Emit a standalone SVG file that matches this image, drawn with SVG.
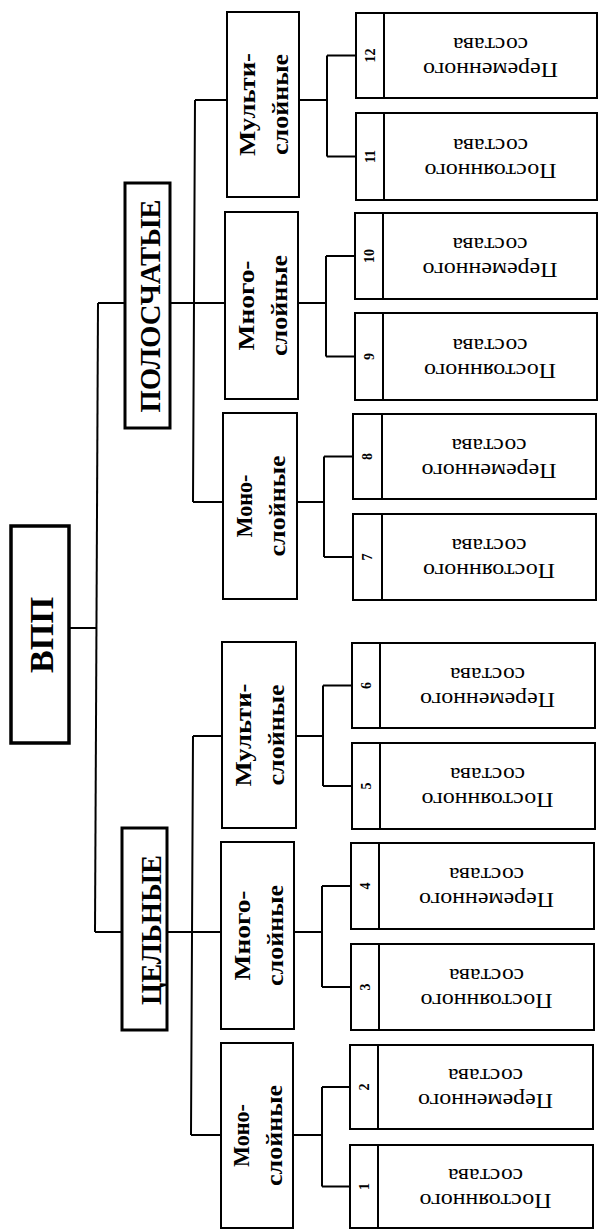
<svg xmlns="http://www.w3.org/2000/svg" width="598" height="1230" viewBox="0 0 598 1230">
<style>
.box{fill:#fff;stroke:#000;stroke-width:2}
.rootbox{fill:#fff;stroke:#000;stroke-width:3.5}
.catbox{fill:#fff;stroke:#000;stroke-width:3}
.div{stroke:#000;stroke-width:2}
.conn path{fill:none;stroke:#000;stroke-width:2}
text{font-family:"Liberation Serif","Times New Roman",serif;fill:#000;text-anchor:middle}
.root{font-size:34px;font-weight:bold}
.cat{font-size:29px;font-weight:bold}
.mid{font-size:24px;font-weight:bold}
.leaf{font-size:21px}
.num{font-size:14px;font-weight:bold}
</style>
<rect width="598" height="1230" fill="#fff"/>
<g class="conn" id="connectors">
<path d="M69 628H97"/>
<path d="M98 303L95 932"/>
<path d="M98 303H125M170 303H225"/>
<path d="M195 100L193 502M195 100H227M193 502H223"/>
<path d="M95 932H122M167 932H221"/>
<path d="M193 736L191 1135M193 736H222M191 1135H221"/>
<path d="M299 100H327M327 55.5V156.5M327 55.5H356M327 156.5H356"/>
<path d="M298 303H326M326 256V356.5M326 256H355M326 356.5H355"/>
<path d="M297 502H324M324 456.5V557M324 456.5H353M324 557H353"/>
<path d="M296 736H323M323 685.5V786M323 685.5H352M323 786H352"/>
<path d="M294 932H322M322 886V987M322 886H351M322 987H351"/>
<path d="M293 1135H322M322 1087V1186.5M322 1087H350M322 1186.5H350"/>
</g>
<g id="root">
<rect class="rootbox" x="11" y="526" width="58" height="217"/>
<text class="root" transform="translate(41.5,635) rotate(-90)" y="11.3" textLength="76" lengthAdjust="spacingAndGlyphs">ВПП</text>
</g>
<g id="polos">
<rect class="catbox" x="125" y="183" width="45" height="245"/>
<text class="cat" transform="translate(150.5,306) rotate(-90)" y="9.6" textLength="213" lengthAdjust="spacingAndGlyphs">ПОЛОСЧАТЫЕ</text>
</g>
<g id="celn">
<rect class="catbox" x="122" y="828" width="45" height="202"/>
<text class="cat" transform="translate(151,930) rotate(-90)" y="9.6" textLength="150" lengthAdjust="spacingAndGlyphs">ЦЕЛЬНЫЕ</text>
</g>
<g id="p-multi">
<rect class="box" x="227" y="12" width="72" height="185"/>
<g transform="translate(263,104.5) rotate(-90)"><text class="mid" y="-8" textLength="103" lengthAdjust="spacingAndGlyphs">Мульти-</text><text class="mid" y="25" textLength="101" lengthAdjust="spacingAndGlyphs">слойные</text></g>
</g>
<g id="p-mnogo">
<rect class="box" x="225" y="212" width="73" height="187"/>
<g transform="translate(261.5,305.5) rotate(-90)"><text class="mid" y="-8" textLength="90" lengthAdjust="spacingAndGlyphs">Много-</text><text class="mid" y="25" textLength="101" lengthAdjust="spacingAndGlyphs">слойные</text></g>
</g>
<g id="p-mono">
<rect class="box" x="223" y="413" width="74" height="186"/>
<g transform="translate(260,506) rotate(-90)"><text class="mid" y="-8" textLength="63" lengthAdjust="spacingAndGlyphs">Моно-</text><text class="mid" y="25" textLength="101" lengthAdjust="spacingAndGlyphs">слойные</text></g>
</g>
<g id="c-multi">
<rect class="box" x="222" y="642" width="74" height="186"/>
<g transform="translate(259,735) rotate(-90)"><text class="mid" y="-8" textLength="103" lengthAdjust="spacingAndGlyphs">Мульти-</text><text class="mid" y="25" textLength="101" lengthAdjust="spacingAndGlyphs">слойные</text></g>
</g>
<g id="c-mnogo">
<rect class="box" x="221" y="842" width="73" height="187"/>
<g transform="translate(257.5,935.5) rotate(-90)"><text class="mid" y="-8" textLength="90" lengthAdjust="spacingAndGlyphs">Много-</text><text class="mid" y="25" textLength="101" lengthAdjust="spacingAndGlyphs">слойные</text></g>
</g>
<g id="c-mono">
<rect class="box" x="221" y="1043" width="72" height="185"/>
<g transform="translate(257,1135.5) rotate(-90)"><text class="mid" y="-8" textLength="63" lengthAdjust="spacingAndGlyphs">Моно-</text><text class="mid" y="25" textLength="101" lengthAdjust="spacingAndGlyphs">слойные</text></g>
</g>
<g id="leaf12">
<rect class="box" x="356" y="13" width="241" height="85"/><line class="div" x1="384" y1="13" x2="384" y2="98"/>
<text class="num" transform="translate(370,55.5) rotate(-90)" y="4.8">12</text>
<g transform="translate(490.5,55.5) rotate(180)"><text class="leaf" y="-7" textLength="135" lengthAdjust="spacingAndGlyphs">Переменного</text><text class="leaf" y="18" textLength="75" lengthAdjust="spacingAndGlyphs">состава</text></g>
</g>
<g id="leaf11">
<rect class="box" x="356" y="113" width="241" height="87"/><line class="div" x1="384" y1="113" x2="384" y2="200"/>
<text class="num" transform="translate(370,156.5) rotate(-90)" y="4.8">11</text>
<g transform="translate(490.5,156.5) rotate(180)"><text class="leaf" y="-7" textLength="132" lengthAdjust="spacingAndGlyphs">Постоянного</text><text class="leaf" y="18" textLength="75" lengthAdjust="spacingAndGlyphs">состава</text></g>
</g>
<g id="leaf10">
<rect class="box" x="355" y="213" width="242" height="86"/><line class="div" x1="383" y1="213" x2="383" y2="299"/>
<text class="num" transform="translate(369,256) rotate(-90)" y="4.8">10</text>
<g transform="translate(490,256) rotate(180)"><text class="leaf" y="-7" textLength="135" lengthAdjust="spacingAndGlyphs">Переменного</text><text class="leaf" y="18" textLength="75" lengthAdjust="spacingAndGlyphs">состава</text></g>
</g>
<g id="leaf9">
<rect class="box" x="355" y="313" width="242" height="87"/><line class="div" x1="383" y1="313" x2="383" y2="400"/>
<text class="num" transform="translate(369,356.5) rotate(-90)" y="4.8">9</text>
<g transform="translate(490,356.5) rotate(180)"><text class="leaf" y="-7" textLength="132" lengthAdjust="spacingAndGlyphs">Постоянного</text><text class="leaf" y="18" textLength="75" lengthAdjust="spacingAndGlyphs">состава</text></g>
</g>
<g id="leaf8">
<rect class="box" x="353" y="414" width="243" height="85"/><line class="div" x1="382" y1="414" x2="382" y2="499"/>
<text class="num" transform="translate(367.5,456.5) rotate(-90)" y="4.8">8</text>
<g transform="translate(489,456.5) rotate(180)"><text class="leaf" y="-7" textLength="135" lengthAdjust="spacingAndGlyphs">Переменного</text><text class="leaf" y="18" textLength="75" lengthAdjust="spacingAndGlyphs">состава</text></g>
</g>
<g id="leaf7">
<rect class="box" x="353" y="514" width="243" height="86"/><line class="div" x1="382" y1="514" x2="382" y2="600"/>
<text class="num" transform="translate(367.5,557) rotate(-90)" y="4.8">7</text>
<g transform="translate(489,557) rotate(180)"><text class="leaf" y="-7" textLength="132" lengthAdjust="spacingAndGlyphs">Постоянного</text><text class="leaf" y="18" textLength="75" lengthAdjust="spacingAndGlyphs">состава</text></g>
</g>
<g id="leaf6">
<rect class="box" x="352" y="643" width="243" height="85"/><line class="div" x1="380" y1="643" x2="380" y2="728"/>
<text class="num" transform="translate(366,685.5) rotate(-90)" y="4.8">6</text>
<g transform="translate(487.5,685.5) rotate(180)"><text class="leaf" y="-7" textLength="135" lengthAdjust="spacingAndGlyphs">Переменного</text><text class="leaf" y="18" textLength="75" lengthAdjust="spacingAndGlyphs">состава</text></g>
</g>
<g id="leaf5">
<rect class="box" x="352" y="743" width="243" height="86"/><line class="div" x1="380" y1="743" x2="380" y2="829"/>
<text class="num" transform="translate(366,786) rotate(-90)" y="4.8">5</text>
<g transform="translate(487.5,786) rotate(180)"><text class="leaf" y="-7" textLength="132" lengthAdjust="spacingAndGlyphs">Постоянного</text><text class="leaf" y="18" textLength="75" lengthAdjust="spacingAndGlyphs">состава</text></g>
</g>
<g id="leaf4">
<rect class="box" x="351" y="843" width="243" height="86"/><line class="div" x1="379" y1="843" x2="379" y2="929"/>
<text class="num" transform="translate(365,886) rotate(-90)" y="4.8">4</text>
<g transform="translate(486.5,886) rotate(180)"><text class="leaf" y="-7" textLength="135" lengthAdjust="spacingAndGlyphs">Переменного</text><text class="leaf" y="18" textLength="75" lengthAdjust="spacingAndGlyphs">состава</text></g>
</g>
<g id="leaf3">
<rect class="box" x="351" y="944" width="243" height="86"/><line class="div" x1="379" y1="944" x2="379" y2="1030"/>
<text class="num" transform="translate(365,987) rotate(-90)" y="4.8">3</text>
<g transform="translate(486.5,987) rotate(180)"><text class="leaf" y="-7" textLength="132" lengthAdjust="spacingAndGlyphs">Постоянного</text><text class="leaf" y="18" textLength="75" lengthAdjust="spacingAndGlyphs">состава</text></g>
</g>
<g id="leaf2">
<rect class="box" x="350" y="1045" width="243" height="84"/><line class="div" x1="378" y1="1045" x2="378" y2="1129"/>
<text class="num" transform="translate(364,1087) rotate(-90)" y="4.8">2</text>
<g transform="translate(485.5,1087) rotate(180)"><text class="leaf" y="-7" textLength="135" lengthAdjust="spacingAndGlyphs">Переменного</text><text class="leaf" y="18" textLength="75" lengthAdjust="spacingAndGlyphs">состава</text></g>
</g>
<g id="leaf1">
<rect class="box" x="350" y="1145" width="243" height="83"/><line class="div" x1="378" y1="1145" x2="378" y2="1228"/>
<text class="num" transform="translate(364,1186.5) rotate(-90)" y="4.8">1</text>
<g transform="translate(485.5,1186.5) rotate(180)"><text class="leaf" y="-7" textLength="132" lengthAdjust="spacingAndGlyphs">Постоянного</text><text class="leaf" y="18" textLength="75" lengthAdjust="spacingAndGlyphs">состава</text></g>
</g>
</svg>
